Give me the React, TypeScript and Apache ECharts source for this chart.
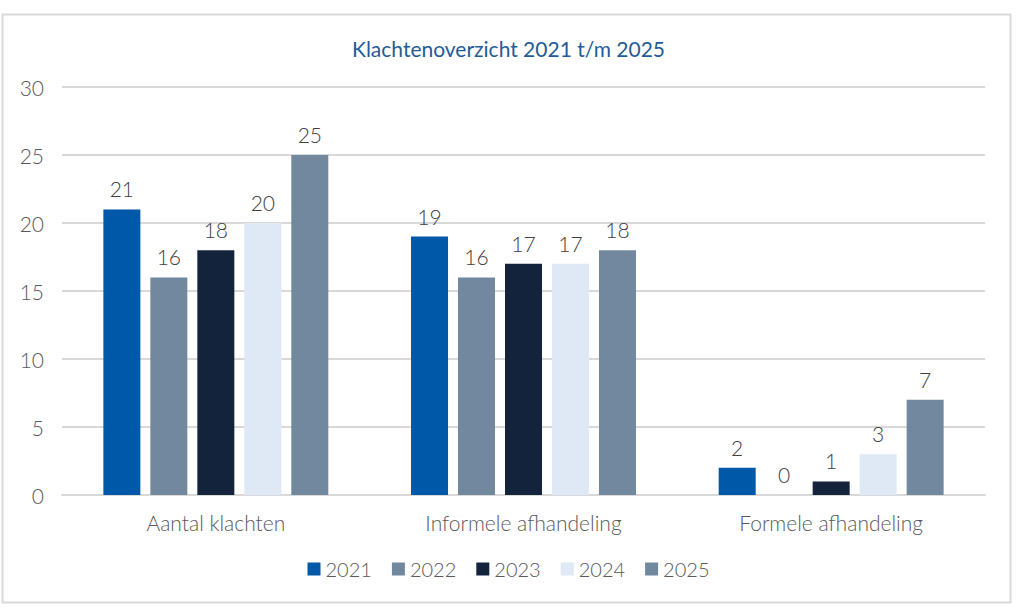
import React, { useEffect, useRef } from "react";
import * as echarts from "echarts";

const categories = ["Aantal klachten", "Informele afhandeling", "Formele afhandeling"];
const years = ["2021", "2022", "2023", "2024", "2025"];
const v2021 = [21, 19, 2];
const v2022 = [16, 16, 0];
const v2023 = [18, 17, 1];
const v2024 = [20, 17, 3];
const v2025 = [25, 18, 7];
const yearValues = [v2021, v2022, v2023, v2024, v2025];
const colors = ["#0058a8", "#72889f", "#14233c", "#dfe8f5", "#72889f"];

export default function App() {
  const ref = useRef<HTMLDivElement>(null);
  useEffect(() => {
    const chart = echarts.init(ref.current!, null, { renderer: "svg" });
    const font = "Lato";
    chart.setOption({
      animation: false,
      backgroundColor: "#ffffff",
      title: {
        text: "Klachtenoverzicht 2021 t/m 2025",
        left: "center",
        top: 33,
        textStyle: { fontFamily: font, fontSize: 21, fontWeight: "normal", color: "#1f5c99" },
      },
      graphic: [
        {
          type: "rect",
          shape: { x: 2.5, y: 14.5, width: 1008, height: 588 },
          style: { fill: "none", stroke: "#d9d9d9", lineWidth: 2 },
          silent: true,
        },
      ],
      legend: {
        bottom: 24,
        left: "center",
        itemWidth: 13,
        itemHeight: 13,
        itemGap: 20,
        icon: "rect",
        textStyle: { fontFamily: font, fontSize: 20, fontWeight: 300, color: "#595959" },
        data: years,
      },
      grid: { left: 62, right: 32, top: 87, bottom: 113 },
      xAxis: {
        type: "category",
        data: categories,
        axisLine: { lineStyle: { color: "#d9d9d9", width: 2 } },
        axisTick: { show: false },
        axisLabel: { fontFamily: font, fontSize: 21, fontWeight: 300, color: "#595959", margin: 17 },
      },
      yAxis: {
        type: "value",
        min: 0,
        max: 30,
        interval: 5,
        axisLine: { show: false },
        axisTick: { show: false },
        splitLine: { lineStyle: { color: "#d9d9d9", width: 2 } },
        axisLabel: { fontFamily: font, fontSize: 21, fontWeight: 300, color: "#595959", margin: 18 },
      },
      series: years.map((y, i) => ({
        name: y,
        type: "bar",
        data: yearValues[i],
        barWidth: 37,
        barGap: "27%",
        itemStyle: { color: colors[i] },
        label: {
          show: true,
          position: "top",
          distance: 10,
          fontFamily: font,
          fontSize: 21,
          fontWeight: 300,
          color: "#404040",
        },
      })),
    });
    return () => chart.dispose();
  }, []);
  return (
    <div
      ref={ref}
      style={{ position: "absolute", left: 0, top: 0, width: 1017, height: 608 }}
    />
  );
}
